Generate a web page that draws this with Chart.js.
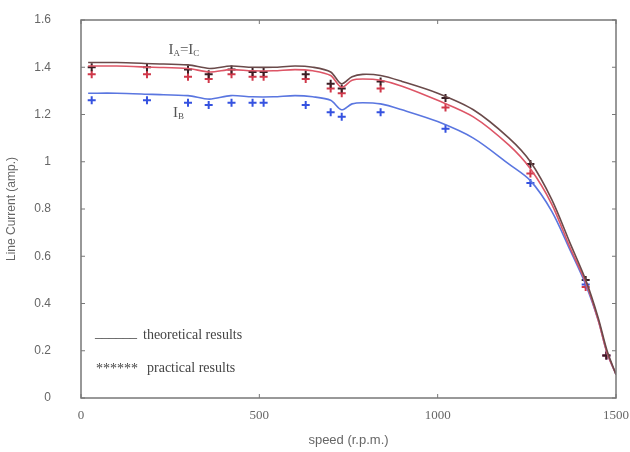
<!DOCTYPE html>
<html lang="en">
<head>
    <meta charset="UTF-8">
    <title>Line Current vs Speed</title>
    <style>
        body {
            margin: 0;
            background-color: #fff;
        }
        .chart-container {
            width: 630px;
            height: 452px;
        }
    </style>
    <script src="https://cdn.jsdelivr.net/npm/chart.js"></script>
</head>
<body>
    <div class="chart-container">
        <canvas id="currentChart"></canvas>
    </div>

    <script>
        // theoretical curves (speed in r.p.m.)
        var theorySpeed = [20, 100, 200, 300, 360, 420, 480, 540, 600, 650, 700, 730, 760, 790, 840, 900, 1000, 1100, 1200, 1260, 1320, 1370, 1415, 1450, 1475, 1500];
        var theoryA = [1.42, 1.42, 1.415, 1.41, 1.395, 1.405, 1.40, 1.40, 1.405, 1.40, 1.38, 1.33, 1.36, 1.37, 1.365, 1.34, 1.29, 1.22, 1.10, 1.00, 0.84, 0.66, 0.50, 0.34, 0.20, 0.10];
        var theoryC = [1.405, 1.405, 1.40, 1.395, 1.38, 1.39, 1.385, 1.385, 1.39, 1.385, 1.365, 1.315, 1.345, 1.35, 1.345, 1.32, 1.26, 1.19, 1.07, 0.97, 0.82, 0.64, 0.49, 0.33, 0.19, 0.10];
        var theoryB = [1.29, 1.29, 1.285, 1.28, 1.265, 1.28, 1.275, 1.275, 1.28, 1.275, 1.26, 1.22, 1.245, 1.25, 1.245, 1.22, 1.17, 1.10, 0.99, 0.92, 0.79, 0.63, 0.48, 0.33, 0.19, 0.10];

        // measured points
        var testSpeed = [30, 185, 300, 358, 422, 481, 512, 630, 700, 731, 840, 1022, 1260, 1415, 1473];
        var testA = [1.40, 1.40, 1.39, 1.37, 1.39, 1.38, 1.38, 1.37, 1.33, 1.31, 1.34, 1.27, 0.99, 0.50, 0.18];
        var testC = [1.37, 1.37, 1.36, 1.35, 1.37, 1.36, 1.36, 1.35, 1.31, 1.29, 1.31, 1.23, 0.95, 0.47, 0.18];
        var testB = [1.26, 1.26, 1.25, 1.24, 1.25, 1.25, 1.25, 1.24, 1.21, 1.19, 1.21, 1.14, 0.91, 0.48, 0.18];

        var yTicks = [0, 0.2, 0.4, 0.6, 0.8, 1, 1.2, 1.4, 1.6];
        var xTicks = [0, 500, 1000, 1500];

        function pairs(xs, ys) {
            return xs.map(function (x, i) { return { x: x, y: ys[i] }; });
        }

        function lineSet(xs, ys, color) {
            return {
                data: pairs(xs, ys),
                borderColor: color,
                borderWidth: 1.6,
                pointRadius: 0,
                fill: false,
                tension: 0.3
            };
        }

        function pointSet(xs, ys, color) {
            return {
                data: pairs(xs, ys),
                showLine: false,
                pointStyle: 'cross',
                pointRadius: 4,
                borderWidth: 2,
                borderColor: color,
                backgroundColor: color
            };
        }

        // frame, inward ticks, labels and legend text
        var decorations = {
            id: 'decorations',
            afterDraw: function (chart) {
                var ctx = chart.ctx;
                var a = chart.chartArea;
                var xs = chart.scales.x;
                var ys = chart.scales.y;
                ctx.save();
                ctx.strokeStyle = '#777';
                ctx.lineWidth = 1.5;
                ctx.strokeRect(a.left, a.top, a.right - a.left, a.bottom - a.top);
                ctx.lineWidth = 1;
                yTicks.forEach(function (v) {
                    var py = ys.getPixelForValue(v);
                    ctx.beginPath();
                    ctx.moveTo(a.left, py); ctx.lineTo(a.left + 4, py);
                    ctx.moveTo(a.right, py); ctx.lineTo(a.right - 4, py);
                    ctx.stroke();
                });
                xTicks.forEach(function (v) {
                    var px = xs.getPixelForValue(v);
                    ctx.beginPath();
                    ctx.moveTo(px, a.bottom); ctx.lineTo(px, a.bottom - 4);
                    ctx.moveTo(px, a.top); ctx.lineTo(px, a.top + 4);
                    ctx.stroke();
                });

                ctx.fillStyle = '#555';
                ctx.textBaseline = 'alphabetic';
                function sub(x, y, parts) {
                    parts.forEach(function (p) {
                        ctx.font = (p[1] ? '9px' : '15px') + ' "Liberation Serif"';
                        ctx.fillText(p[0], x, y + (p[1] ? 2 : 0));
                        x += ctx.measureText(p[0]).width;
                    });
                }
                sub(xs.getPixelForValue(245), ys.getPixelForValue(1.455),
                    [['I', false], ['A', true], ['=', false], ['I', false], ['C', true]]);
                sub(xs.getPixelForValue(258), ys.getPixelForValue(1.19),
                    [['I', false], ['B', true]]);

                ctx.font = '14px "Liberation Serif"';
                ctx.fillStyle = '#444';
                ctx.fillText('______', 95, 337);
                ctx.fillText('theoretical results', 143, 339);
                ctx.fillText('******', 96, 373);
                ctx.fillText('practical results', 147, 372);
                ctx.restore();
            }
        };

        var ctx = document.getElementById('currentChart').getContext('2d');
        new Chart(ctx, {
            type: 'line',
            data: {
                datasets: [
                    lineSet(theorySpeed, theoryA, '#6a4a4a'),
                    lineSet(theorySpeed, theoryC, '#dd5566'),
                    lineSet(theorySpeed, theoryB, '#5a76e0'),
                    pointSet(testSpeed, testA, '#3a1e24'),
                    pointSet(testSpeed, testC, '#d0384a'),
                    pointSet(testSpeed, testB, '#3552e0')
                ]
            },
            options: {
                responsive: true,
                maintainAspectRatio: false,
                animation: false,
                layout: { padding: { left: 0, right: 14, top: 20, bottom: 0 } },
                plugins: {
                    legend: { display: false },
                    tooltip: { enabled: false }
                },
                scales: {
                    x: {
                        type: 'linear',
                        min: 0,
                        max: 1500,
                        afterBuildTicks: function (s) { s.ticks = xTicks.map(function (v) { return { value: v }; }); },
                        afterFit: function (s) {
                            s.height = 54;
                            s.paddingLeft = 0;
                            s.paddingRight = 0;
                        },
                        grid: { display: false },
                        border: { display: false },
                        ticks: {
                            color: '#666',
                            padding: 2,
                            font: { family: 'Liberation Serif', size: 13 },
                            maxRotation: 0,
                            callback: function (v) { return String(v); }
                        },
                        title: {
                            display: true,
                            text: 'speed (r.p.m.)',
                            color: '#666',
                            padding: { top: 14 },
                            font: { family: 'Liberation Sans', size: 13 }
                        }
                    },
                    y: {
                        min: 0,
                        max: 1.6,
                        afterBuildTicks: function (s) { s.ticks = yTicks.map(function (v) { return { value: v }; }); },
                        afterFit: function (s) {
                            s.width = 81;
                            s.paddingTop = 0;
                            s.paddingBottom = 0;
                        },
                        grid: { display: false },
                        border: { display: false },
                        ticks: {
                            color: '#666',
                            padding: 22,
                            font: { family: 'Liberation Sans', size: 12 },
                            callback: function (v) { return String(v); }
                        },
                        title: {
                            display: true,
                            text: 'Line Current (amp.)',
                            color: '#666',
                            padding: { bottom: 0 },
                            font: { family: 'Liberation Sans', size: 12 }
                        }
                    }
                }
            },
            plugins: [decorations]
        });
    </script>
</body>
</html>
